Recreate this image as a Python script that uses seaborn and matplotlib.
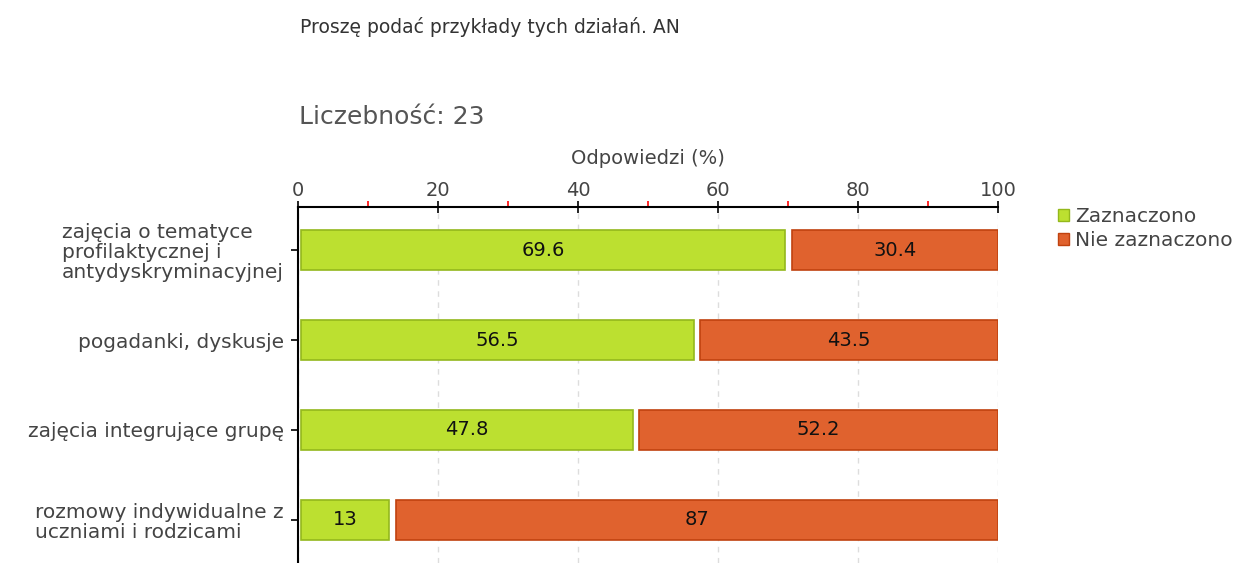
import matplotlib
matplotlib.use('Agg')
import matplotlib.pyplot as plt
import seaborn as sns
import pandas as pd
from matplotlib.patches import Patch
from matplotlib.ticker import MultipleLocator

# DATA ----
categories = ['zajęcia o tematyce\nprofilaktycznej i\nantydyskryminacyjnej',
              'pogadanki, dyskusje',
              'zajęcia integrujące grupę',
              'rozmowy indywidualne z\nuczniami i rodzicami']
zaznaczono = [69.6, 56.5, 47.8, 13]
nie_zaznaczono = [30.4, 43.5, 52.2, 87]
series_names = ['Zaznaczono', 'Nie zaznaczono']

GREEN, GREEN_EDGE = '#bce030', '#94b81c'
ORANGE, ORANGE_EDGE = '#e0622e', '#c0420f'
TXT = '#444444'

sns.set_style('white')
plt.rcParams['font.family'] = ['DejaVu Sans']

df = pd.DataFrame({'kat': categories, 'z': zaznaczono, 'n': nie_zaznaczono})

fig = plt.figure(figsize=(12.42, 5.63), dpi=100)
ax = fig.add_axes([298 / 1242, 0, 700 / 1242, 356 / 563])

sns.barplot(data=df, x='z', y='kat', orient='h', color=GREEN, edgecolor=GREEN_EDGE,
            linewidth=1.2, width=0.444, saturation=1, ax=ax)
sns.barplot(data=df, x='n', y='kat', orient='h', color=ORANGE, edgecolor=ORANGE_EDGE,
            linewidth=1.2, width=0.444, saturation=1, ax=ax)

# shift bars so they stack with a small gap
n = len(categories)
green_bars = ax.patches[:n]
orange_bars = ax.patches[n:2 * n]
for bar, g in zip(green_bars, zaznaczono):
    bar.set_x(0.45)
    bar.set_width(g - 0.45)
for bar, g, o in zip(orange_bars, zaznaczono, nie_zaznaczono):
    bar.set_x(g + 0.95)
    bar.set_width(o - 0.95)

for i, (g, o) in enumerate(zip(zaznaczono, nie_zaznaczono)):
    ax.text((0.45 + g) / 2, i, f'{g:g}', ha='center', va='center', fontsize=14, color='#111111')
    ax.text(g + 0.95 + (o - 0.95) / 2, i, f'{o:g}', ha='center', va='center', fontsize=14,
            color='#111111')

ax.set_xlim(0, 100)
ax.set_ylim(3.478, -0.478)
ax.xaxis.set_label_position('top')
ax.xaxis.tick_top()
ax.xaxis.set_major_locator(MultipleLocator(20))
ax.xaxis.set_minor_locator(MultipleLocator(10))
ax.set_xlabel('Odpowiedzi (%)', fontsize=14, color=TXT, labelpad=12)
ax.set_ylabel('')
ax.tick_params(axis='x', which='major', direction='inout', length=8, width=1.2, color='black',
               labelsize=14, labelcolor=TXT, pad=1)
ax.tick_params(axis='x', which='minor', direction='out', length=4, width=1.2, color='red')
ax.tick_params(axis='y', which='major', direction='out', length=5, width=1.2, color='black',
               labelsize=14.5, labelcolor=TXT, pad=5, left=True)
for lbl in ax.get_yticklabels():
    lbl.set_multialignment('left')
    lbl.set_linespacing(1.05)

ax.grid(axis='x', which='major', color='#dddddd', linestyle=(0, (4, 4)), linewidth=1)
ax.set_axisbelow(True)
for side in ['right', 'bottom']:
    ax.spines[side].set_visible(False)
for side in ['top', 'left']:
    ax.spines[side].set_color('black')
    ax.spines[side].set_linewidth(1.5)

handles = [Patch(facecolor=GREEN, edgecolor=GREEN_EDGE), Patch(facecolor=ORANGE, edgecolor=ORANGE_EDGE)]
fig.legend(handles, series_names, loc='upper left', bbox_to_anchor=(1050 / 1242, 1 - 199 / 563),
           frameon=False, fontsize=14.5, labelcolor=TXT, handlelength=0.55, handleheight=0.55,
           handletextpad=0.3, labelspacing=0.25, borderaxespad=0)

fig.text(300 / 1242, 1 - 27 / 563, 'Proszę podać przykłady tych działań. AN', fontsize=13.5,
         color='#333333', va='center')
fig.text(299 / 1242, 1 - 117 / 563, 'Liczebność: 23', fontsize=18, color='#555555', va='center')

fig.savefig('out.png', dpi=100)
